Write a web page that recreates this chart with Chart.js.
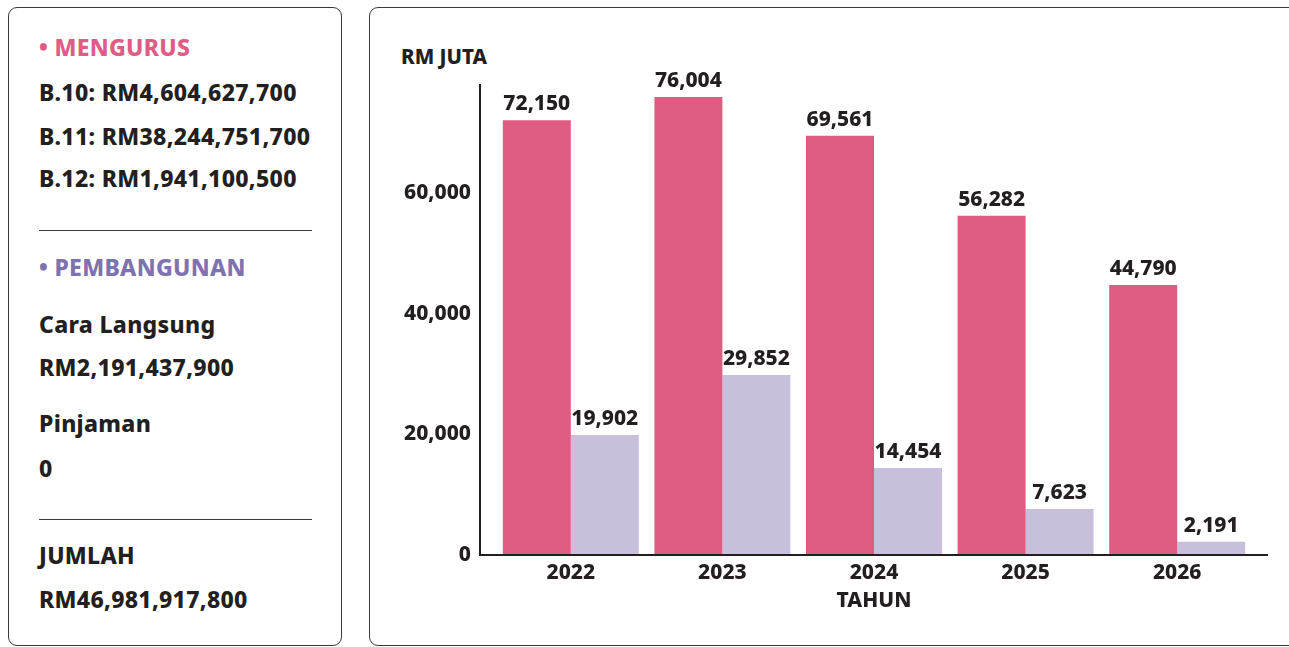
<!DOCTYPE html>
<html>
<head>
<meta charset="utf-8">
<script src="https://cdn.jsdelivr.net/npm/chart.js@4/dist/chart.umd.min.js"></script>
<style>
  html, body { margin: 0; padding: 0; background: #ffffff; }
  body { width: 1289px; height: 647px; position: relative; overflow: hidden;
         font-family: "Noto Sans", sans-serif; font-weight: 800; color: #231F20; }
  .box { position: absolute; border: 1.3px solid #3a3a3a; border-radius: 9px; box-sizing: border-box; }
  #leftBox { left: 8px; top: 7px; width: 334px; height: 639px; }
  #rightBox { left: 369px; top: 7px; width: 930px; height: 639px; }
  .t { position: absolute; left: 39px; font-size: 23px; line-height: 30px; white-space: nowrap; letter-spacing: 0.3px; }
  .rule { position: absolute; left: 39px; width: 273px; height: 0; border-top: 1.2px solid #3a3a3a; }
  #chartWrap { position: absolute; left: 0; top: 0; width: 1289px; height: 647px; }
  #yTitle { position: absolute; left: 401px; top: 42px; font-size: 20.5px; line-height: 28px; }
</style>
</head>
<body>
<div id="leftBox" class="box"></div>
<div id="rightBox" class="box"></div>

<div class="t" style="top:32px; color:#DF5C84;">• MENGURUS</div>
<div class="t" style="top:77px;">B.10: RM4,604,627,700</div>
<div class="t" style="top:121px;">B.11: RM38,244,751,700</div>
<div class="t" style="top:163px;">B.12: RM1,941,100,500</div>
<div class="rule" style="top:230px;"></div>
<div class="t" style="top:252px; color:#7E73AF;">• PEMBANGUNAN</div>
<div class="t" style="top:309px;">Cara Langsung</div>
<div class="t" style="top:352px;">RM2,191,437,900</div>
<div class="t" style="top:408px;">Pinjaman</div>
<div class="t" style="top:453px;">0</div>
<div class="rule" style="top:519px;"></div>
<div class="t" style="top:540px;">JUMLAH</div>
<div class="t" style="top:584px;">RM46,981,917,800</div>

<div id="yTitle">RM JUTA</div>
<div id="chartWrap"><canvas id="c" width="1289" height="647"></canvas></div>

<script>
const years = ["2022", "2023", "2024", "2025", "2026"];
const mengurus = [72150, 76004, 69561, 56282, 44790];
const pembangunan = [19902, 29852, 14454, 7623, 2191];
const yTicks = [0, 20000, 40000, 60000];
const xTitle = "TAHUN";

const FONT = "'Noto Sans', sans-serif";
const INK = "#231F20";
const W = "800";
const FS = 21;

const fmt = v => v.toLocaleString("en-US");

const axisLines = {
  id: "axisLines",
  afterDatasetsDraw(chart) {
    const { ctx, chartArea } = chart;
    const y = chart.scales.y;
    const ext = 15;
    ctx.save();
    ctx.strokeStyle = INK;
    ctx.lineWidth = 2;
    ctx.beginPath();
    ctx.moveTo(chartArea.left - ext, chartArea.top - 1);
    ctx.lineTo(chartArea.left - ext, y.getPixelForValue(0));
    ctx.lineTo(chartArea.right + ext, y.getPixelForValue(0));
    ctx.stroke();
    ctx.restore();
  }
};

const valueLabels = {
  id: "valueLabels",
  afterDatasetsDraw(chart) {
    const { ctx } = chart;
    ctx.save();
    ctx.font = W + " " + FS + "px " + FONT;
    ctx.fillStyle = INK;
    ctx.textAlign = "center";
    ctx.textBaseline = "alphabetic";
    chart.data.datasets.forEach((ds, i) => {
      chart.getDatasetMeta(i).data.forEach((bar, j) => {
        ctx.fillText(fmt(ds.data[j]), bar.x, bar.y - 10);
      });
    });
    ctx.restore();
  }
};

new Chart(document.getElementById("c"), {
  type: "bar",
  data: {
    labels: years,
    datasets: [
      { label: "Mengurus", data: mengurus, backgroundColor: "#DE5C82" },
      { label: "Pembangunan", data: pembangunan, backgroundColor: "#C8BFDD" }
    ]
  },
  options: {
    responsive: false,
    animation: false,
    events: [],
    layout: { padding: { left: 395, right: 36, top: 85, bottom: 31 } },
    datasets: { bar: { categoryPercentage: 0.897, barPercentage: 1.0 } },
    plugins: { legend: { display: false }, tooltip: { enabled: false }, title: { display: false } },
    scales: {
      x: {
        grid: { display: false, drawTicks: false },
        border: { display: false },
        ticks: { color: INK, font: { family: FONT, size: FS, weight: W }, padding: 5 },
        title: { display: true, text: xTitle, color: INK, font: { family: FONT, size: FS, weight: W }, padding: { top: 0, bottom: 2 } },
        afterFit(s) { s.height = 61; }
      },
      y: {
        min: 0, max: 78000,
        grid: { display: false, drawTicks: false },
        border: { display: false },
        afterBuildTicks(s) { s.ticks = yTicks.map(v => ({ value: v })); },
        ticks: { color: INK, font: { family: FONT, size: FS, weight: W }, padding: 24,
                 callback: v => fmt(v) },
        afterFit(s) { s.width = 100; }
      }
    }
  },
  plugins: [axisLines, valueLabels]
});
</script>
</body>
</html>
